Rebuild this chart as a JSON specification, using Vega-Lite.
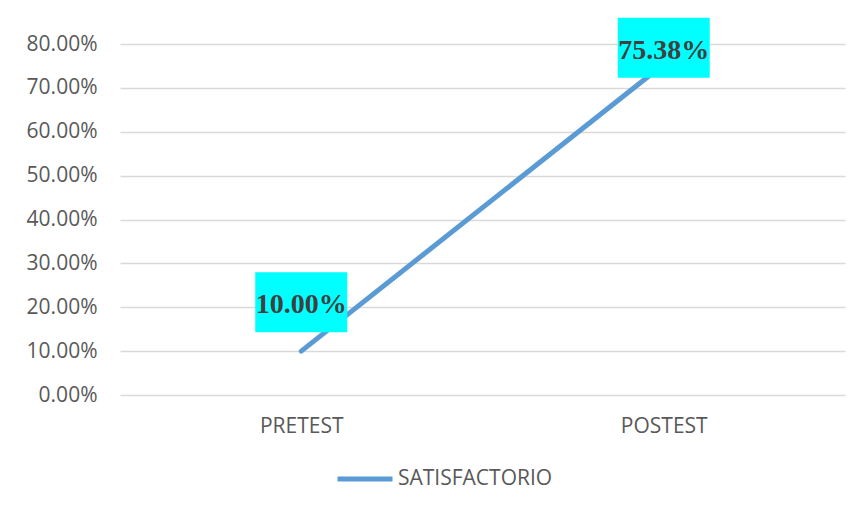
{
  "$schema": "https://vega.github.io/schema/vega-lite/v6.json",
  "width": 725,
  "height": 351,
  "autosize": "none",
  "padding": {"left": 120, "top": 44, "right": 18, "bottom": 114},
  "background": "white",
  "config": {
    "view": {"stroke": null},
    "font": "Open Sans"
  },
  "data": {
    "values": [
      {"stage": "PRETEST", "value": 0.10, "series": "SATISFACTORIO"},
      {"stage": "POSTEST", "value": 0.7538, "series": "SATISFACTORIO"}
    ]
  },
  "encoding": {
    "x": {
      "field": "stage", "type": "ordinal", "sort": ["PRETEST", "POSTEST"],
      "scale": {"type": "point", "padding": 0.5},
      "axis": {"title": null, "domain": false, "ticks": false, "labelAngle": 0,
               "labelFont": "Open Sans", "labelFontSize": 21, "labelColor": "#595959", "labelPadding": 20}
    },
    "y": {
      "field": "value", "type": "quantitative",
      "scale": {"domain": [0, 0.8], "nice": false},
      "axis": {"title": null, "format": ".2%", "values": [0,0.1,0.2,0.3,0.4,0.5,0.6,0.7,0.8],
               "labelOverlap": false,
               "domain": false, "ticks": false, "labelPadding": 23,
               "labelFont": "Open Sans", "labelFontSize": 21, "labelColor": "#595959",
               "gridColor": "#D9D9D9", "gridWidth": 1.3}
    }
  },
  "layer": [
    {
      "mark": {"type": "line", "strokeWidth": 5, "strokeCap": "round"},
      "encoding": {
        "color": {
          "field": "series", "type": "nominal",
          "scale": {"range": ["#5B9BD5"]},
          "legend": {"title": null, "orient": "none", "legendX": 215, "legendY": 405,
                     "symbolType": "stroke", "symbolSize": 3025, "symbolStrokeWidth": 5,
                     "labelFont": "Open Sans", "labelFontSize": 21, "labelColor": "#595959", "labelOffset": 3}
        }
      }
    },
    {
      "mark": {"type": "rect", "width": 92, "height": 60, "color": "#00FFFF",
               "yOffset": {"expr": "datum.stage === 'PRETEST' ? -49 : -16.5"}}
    },
    {
      "mark": {"type": "text", "font": "Liberation Serif", "fontWeight": "bold", "fontSize": 28,
               "color": "#404040", "baseline": "middle",
               "dy": {"expr": "datum.stage === 'PRETEST' ? -46 : -13"}},
      "encoding": {"text": {"field": "value", "type": "quantitative", "format": ".2%"}}
    }
  ]
}
